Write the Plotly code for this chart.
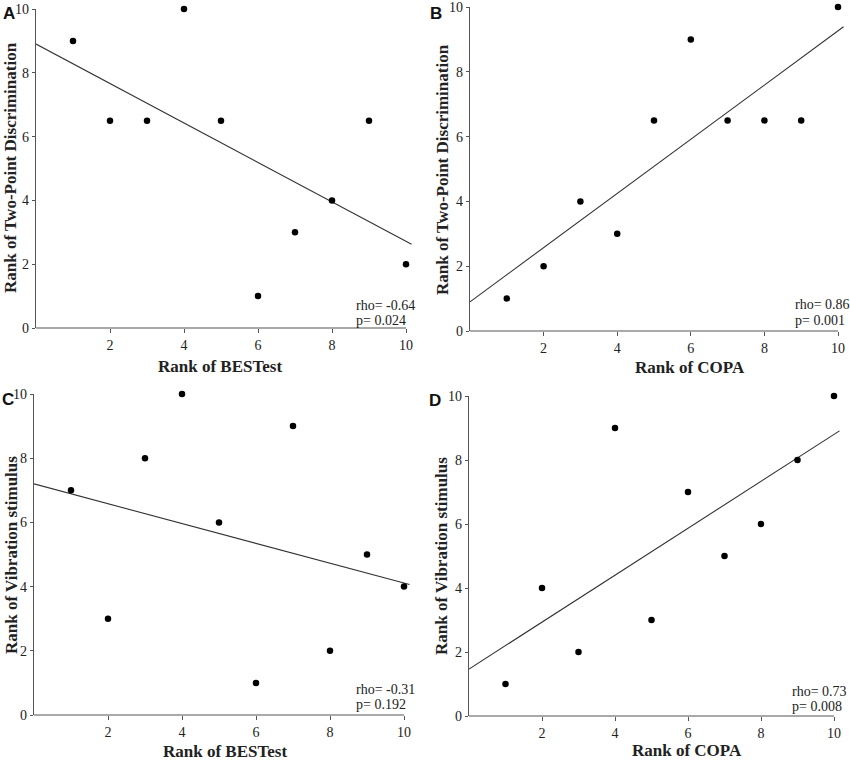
import numpy as np
import plotly.graph_objects as go

# ---- data ----
ranks_x = [1, 2, 3, 4, 5, 6, 7, 8, 9, 10]
tpd_vs_bestest = [9, 6.5, 6.5, 10, 6.5, 1, 3, 4, 6.5, 2]
tpd_vs_copa = [1, 2, 4, 3, 6.5, 9, 6.5, 6.5, 6.5, 10]
vib_vs_bestest = [7, 3, 8, 10, 6, 1, 9, 2, 5, 4]
vib_vs_copa = [1, 4, 2, 9, 3, 7, 5, 6, 8, 10]

panel_letters = ["A", "B", "C", "D"]
x_titles = ["Rank of BESTest", "Rank of COPA", "Rank of BESTest", "Rank of COPA"]
y_titles = ["Rank of Two-Point Discrimination", "Rank of Two-Point Discrimination",
            "Rank of Vibration stimulus", "Rank of Vibration stimulus"]
rho_text = ["rho= -0.64", "rho= 0.86", "rho= -0.31", "rho= 0.73"]
p_text = ["p= 0.024", "p= 0.001", "p= 0.192", "p= 0.008"]
x_ticks = [2, 4, 6, 8, 10]
y_ticks = [0, 2, 4, 6, 8, 10]

series = [tpd_vs_bestest, tpd_vs_copa, vib_vs_bestest, vib_vs_copa]

W, H = 850, 760
# pixel layout per panel: (x_left, x_at_10, y_top(10), y_bottom(0))
geo = [(36, 406, 9, 328), (470, 838, 7, 331), (34, 404, 394, 715), (469, 834, 396, 716)]
xtitle_pos = [(220, 366), (690, 367), (225, 751), (687, 750)]
ytitle_pos = [(10, 168), (443, 169), (11, 555), (441, 556)]
stats_pos = [(354, 305, 320), (793, 304, 321), (354, 689, 704), (790, 691, 706)]
letter_pos = [(1, 2), (428, 2), (0, 388), (427, 389)]

XMAX = 10.2
serif = "Liberation Serif"
sans = "Liberation Sans"

fig = go.Figure()
shapes = []
annotations = []

for i, ys in enumerate(series):
    xl, x10, yt, yb = geo[i]
    unit = (x10 - xl) / 10.0
    xr = xl + unit * XMAX
    ax = "" if i == 0 else str(i + 1)
    xname, yname = "xaxis" + ax, "yaxis" + ax
    xref, yref = "x" + ax, "y" + ax

    # regression line from data
    slope, intercept = np.polyfit(ranks_x, ys, 1)
    fx = np.array([0.0, 10.15])
    fig.add_trace(go.Scatter(x=fx, y=slope * fx + intercept, mode="lines",
                             line=dict(color="#333333", width=1.1),
                             xaxis=xref, yaxis=yref, showlegend=False, hoverinfo="skip"))
    fig.add_trace(go.Scatter(x=ranks_x, y=ys, mode="markers",
                             marker=dict(color="black", size=6.5),
                             cliponaxis=False,
                             xaxis=xref, yaxis=yref, showlegend=False))

    fig.layout[xname] = dict(domain=[xl / W, xr / W], range=[0, XMAX], anchor=yref,
                             tickvals=x_ticks, ticks="outside", ticklen=4, tickwidth=1,
                             tickcolor="#555555", showline=False, showgrid=False,
                             automargin=False, ticklabeloverflow="allow",
                             zeroline=False, tickfont=dict(family=serif, size=14, color="#222222"))
    fig.layout[yname] = dict(domain=[1 - yb / H, 1 - yt / H], range=[0, 10], anchor=xref,
                             tickvals=y_ticks, ticks="outside", ticklen=3, tickwidth=1,
                             tickcolor="#555555", showline=True, linecolor="#555555",
                             linewidth=1.2, showgrid=False, zeroline=False, automargin=False,
                             ticklabeloverflow="allow",
                             tickfont=dict(family=serif, size=14, color="#222222"))
    # x axis line ends at 10
    shapes.append(dict(type="line", xref=xref, yref=yref + " domain", x0=0, x1=10, y0=0, y1=0,
                       line=dict(color="#555555", width=1.2)))

    tx, ty = xtitle_pos[i]
    annotations.append(dict(text="<b>" + x_titles[i] + "</b>", x=tx / W, y=1 - ty / H,
                            xref="paper", yref="paper", showarrow=False, xanchor="center",
                            yanchor="middle", font=dict(family=serif, size=17, color="#222222")))
    tx, ty = ytitle_pos[i]
    annotations.append(dict(text="<b>" + y_titles[i] + "</b>", x=tx / W, y=1 - ty / H,
                            xref="paper", yref="paper", showarrow=False, xanchor="center",
                            yanchor="middle", textangle=-90,
                            font=dict(family=serif, size=17, color="#222222")))
    sx, sy1, sy2 = stats_pos[i]
    for txt, sy in ((rho_text[i], sy1), (p_text[i], sy2)):
        annotations.append(dict(text=txt, x=sx / W, y=1 - sy / H, xref="paper",
                                yref="paper", showarrow=False, xanchor="left", yanchor="middle",
                                align="left", font=dict(family=serif, size=14, color="#222222")))
    tx, ty = letter_pos[i]
    annotations.append(dict(text="<b>" + panel_letters[i] + "</b>", x=tx / W, y=1 - ty / H,
                            xref="paper", yref="paper", showarrow=False, xanchor="left",
                            yanchor="top", font=dict(family=sans, size=17, color="#111111")))

fig.update_layout(width=W, height=H, margin=dict(l=0, r=0, t=0, b=0, pad=0, autoexpand=False),
                  paper_bgcolor="white", plot_bgcolor="white",
                  shapes=shapes, annotations=annotations, showlegend=False)

fig.write_html("out.html", config={"displayModeBar": False},
               post_script="document.body.style.margin='0px';document.body.style.overflow='hidden';")
